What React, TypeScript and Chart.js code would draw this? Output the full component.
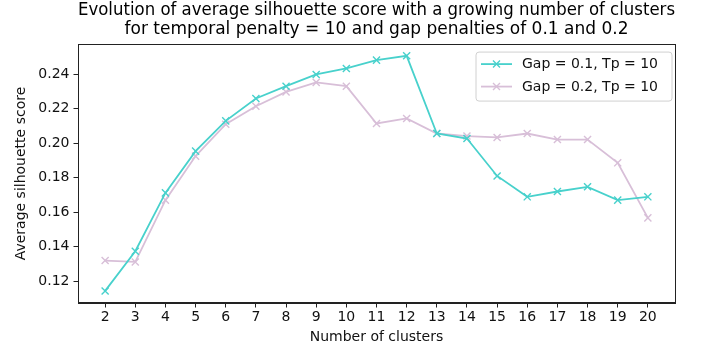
import { useEffect, useRef } from "react";
import { Chart, registerables } from "chart.js";

Chart.register(...registerables);

const clusters = [2, 3, 4, 5, 6, 7, 8, 9, 10, 11, 12, 13, 14, 15, 16, 17, 18, 19, 20];
const gap01 = [0.1144, 0.1374, 0.1712, 0.1954, 0.2129, 0.2259, 0.233, 0.2398, 0.2433, 0.2481, 0.2506, 0.2056, 0.2027, 0.181, 0.1689, 0.172, 0.1747, 0.167, 0.1689];
const gap02 = [0.132, 0.1312, 0.167, 0.1925, 0.211, 0.2214, 0.2297, 0.2352, 0.233, 0.2114, 0.2143, 0.2056, 0.2041, 0.2033, 0.2056, 0.2021, 0.2021, 0.1886, 0.1567];
const xTicks = clusters;
const yTicks = [0.12, 0.14, 0.16, 0.18, 0.2, 0.22, 0.24];
const titleLines = [
  "Evolution of average silhouette score with a growing number of clusters",
  "for temporal penalty = 10 and gap penalties of 0.1 and 0.2",
];
const seriesLabels = ["Gap = 0.1, Tp = 10", "Gap = 0.2, Tp = 10"];
const seriesColors = ["#48D1CC", "#D8BFD8"];
const xLabel = "Number of clusters";
const yLabel = "Average silhouette score";

const FONT = "'DejaVu Sans', sans-serif";

const framePlugin = {
  id: "frameAndLegend",
  afterDraw(chart: any) {
    const { ctx, chartArea } = chart;
    ctx.save();
    ctx.strokeStyle = "#222";
    ctx.lineWidth = 1;
    ctx.strokeRect(
      Math.round(chartArea.left) + 0.5,
      Math.round(chartArea.top) + 0.5,
      Math.round(chartArea.right - chartArea.left),
      Math.round(chartArea.bottom - chartArea.top)
    );

    // legend (upper right, inside the axes)
    const boxW = 196;
    const boxH = 49;
    const right = chartArea.right - 3;
    const left = right - boxW;
    const top = chartArea.top + 8;
    const r = 3;
    ctx.beginPath();
    ctx.moveTo(left + r, top);
    ctx.lineTo(left + boxW - r, top);
    ctx.quadraticCurveTo(left + boxW, top, left + boxW, top + r);
    ctx.lineTo(left + boxW, top + boxH - r);
    ctx.quadraticCurveTo(left + boxW, top + boxH, left + boxW - r, top + boxH);
    ctx.lineTo(left + r, top + boxH);
    ctx.quadraticCurveTo(left, top + boxH, left, top + boxH - r);
    ctx.lineTo(left, top + r);
    ctx.quadraticCurveTo(left, top, left + r, top);
    ctx.closePath();
    ctx.fillStyle = "rgba(255,255,255,0.8)";
    ctx.fill();
    ctx.strokeStyle = "#d0d0d0";
    ctx.lineWidth = 1;
    ctx.stroke();

    chart.data.datasets.forEach((ds: any, i: number) => {
      const y = top + 12 + i * 22.5;
      const x0 = left + 5;
      const x1 = left + 36;
      ctx.strokeStyle = ds.borderColor;
      ctx.lineWidth = 1.8;
      ctx.beginPath();
      ctx.moveTo(x0, y);
      ctx.lineTo(x1, y);
      ctx.stroke();
      const cx = (x0 + x1) / 2;
      const h = 3.5;
      ctx.lineWidth = 1.4;
      ctx.beginPath();
      ctx.moveTo(cx - h, y - h);
      ctx.lineTo(cx + h, y + h);
      ctx.moveTo(cx - h, y + h);
      ctx.lineTo(cx + h, y - h);
      ctx.stroke();
      ctx.fillStyle = "#111";
      ctx.font = `14px ${FONT}`;
      ctx.textBaseline = "middle";
      ctx.textAlign = "left";
      ctx.fillText(ds.label, left + 46, y + 0.5);
    });
    ctx.restore();
  },
};

export default function App() {
  const canvasRef = useRef<HTMLCanvasElement | null>(null);

  useEffect(() => {
    const canvas = canvasRef.current;
    if (!canvas) return;
    const mk = (vals: number[]) => clusters.map((c, i) => ({ x: c, y: vals[i] }));
    const tickFont = { family: FONT, size: 14 };
    const chart = new Chart(canvas, {
      type: "line",
      data: {
        datasets: [
          {
            label: seriesLabels[0],
            data: mk(gap01),
            borderColor: seriesColors[0],
            backgroundColor: seriesColors[0],
            borderWidth: 1.8,
            pointStyle: "crossRot",
            pointRadius: 5,
            pointBorderWidth: 1.4,
            pointBorderColor: seriesColors[0],
            tension: 0,
          },
          {
            label: seriesLabels[1],
            data: mk(gap02),
            borderColor: seriesColors[1],
            backgroundColor: seriesColors[1],
            borderWidth: 1.8,
            pointStyle: "crossRot",
            pointRadius: 5,
            pointBorderWidth: 1.4,
            pointBorderColor: seriesColors[1],
            tension: 0,
          },
        ],
      },
      options: {
        animation: false,
        responsive: false,
        devicePixelRatio: 1,
        layout: { padding: { left: 0, right: 32, top: 0, bottom: 0 } },
        plugins: {
          legend: { display: false },
          tooltip: { enabled: false },
          title: {
            display: true,
            fullSize: false,
            text: titleLines,
            color: "#000",
            font: { family: FONT, size: 17, weight: "normal", lineHeight: 1.12 },
            padding: { top: 1.5, bottom: 4.5 },
          },
        },
        scales: {
          x: {
            type: "linear",
            min: 1.1,
            max: 20.9,
            afterBuildTicks: (s: any) => {
              s.ticks = xTicks.map((v) => ({ value: v }));
            },
            afterFit: (s: any) => {
              s.height = 46;
            },
            grid: { drawOnChartArea: false, drawTicks: true, tickLength: 4.5, color: "#222" },
            border: { display: true, color: "#222", width: 1 },
            ticks: {
              autoSkip: false,
              maxRotation: 0,
              color: "#111",
              font: tickFont,
              padding: 1,
              callback: (v: any) => String(v),
            },
            title: {
              display: true,
              text: xLabel,
              color: "#111",
              font: tickFont,
              padding: { top: 0, bottom: 3 },
            },
          },
          y: {
            type: "linear",
            min: 0.1074,
            max: 0.2574,
            afterBuildTicks: (s: any) => {
              s.ticks = yTicks.map((v) => ({ value: v }));
            },
            afterFit: (s: any) => {
              s.width = 78;
            },
            grid: { drawOnChartArea: false, drawTicks: true, tickLength: 4.5, color: "#222" },
            border: { display: true, color: "#222", width: 1 },
            ticks: {
              color: "#111",
              font: tickFont,
              padding: 4,
              callback: (v: any) => Number(v).toFixed(2),
            },
            title: {
              display: true,
              text: yLabel,
              color: "#111",
              font: tickFont,
              padding: { top: 13, bottom: 0 },
            },
          },
        },
      },
      plugins: [framePlugin],
    } as any);
    return () => chart.destroy();
  }, []);

  return (
    <div style={{ position: "absolute", left: 0, top: 0, width: 707, height: 349, background: "#fff" }}>
      <canvas ref={canvasRef} width={707} height={349} style={{ display: "block" }} />
    </div>
  );
}
